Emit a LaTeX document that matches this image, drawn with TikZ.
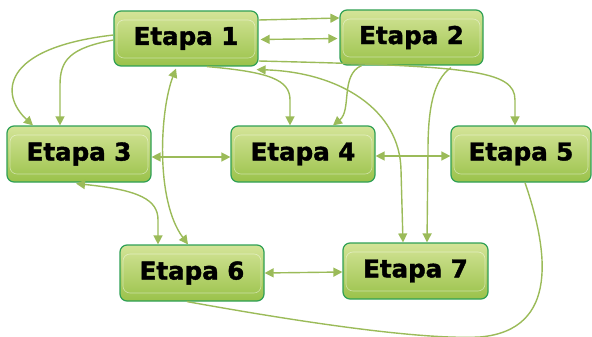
\documentclass[tikz,border=0pt]{standalone}
\usepackage{fontspec}
\newfontfamily\etapafont{DejaVu Sans}[BoldFeatures={FakeBold=1.6}]
\usetikzlibrary{arrows.meta,calc}
\definecolor{edgegreen}{HTML}{9BBB59}
\definecolor{boxborder}{HTML}{2FA055}
\definecolor{boxtop}{HTML}{D4E498}
\definecolor{boxbottom}{HTML}{9AC24A}
\tikzset{
  etapabox/.style={draw=boxborder, line width=1.2pt, rounded corners=7pt,
    top color=boxtop, bottom color=boxbottom, minimum height=55pt, inner sep=0pt,
    font=\etapafont\bfseries\fontsize{24.5}{24.5}\selectfont, text=black,
    path picture={\draw[white, opacity=0.45, line width=0.6pt]
      ([shift={(3pt,8pt)}]path picture bounding box.south west) rectangle
      ([shift={(-3pt,-9pt)}]path picture bounding box.north east);}},
  link/.style={draw=edgegreen, line width=1.4pt},
  tip/.style={-{Triangle[length=9pt,width=9pt]}},
  bitip/.style={{Triangle[length=9pt,width=9pt]}-{Triangle[length=9pt,width=9pt]}}
}
\begin{document}
\begin{tikzpicture}[x=1pt,y=-1pt]
\useasboundingbox (0,0) rectangle (592,337);
\node[etapabox, minimum width=144pt] (e1) at (186,38.5) {Etapa 1};
\node[etapabox, minimum width=143pt] (e2) at (411.5,37.5) {Etapa 2};
\node[etapabox, minimum width=144pt, minimum height=56pt] (e3) at (79,154) {Etapa 3};
\node[etapabox, minimum width=144pt, minimum height=56pt] (e4) at (303,154) {Etapa 4};
\node[etapabox, minimum width=140pt, minimum height=56pt] (e5) at (521,154) {Etapa 5};
\node[etapabox, minimum width=144pt, minimum height=56pt] (e6) at (192,273) {Etapa 6};
\node[etapabox, minimum width=145pt, minimum height=56pt] (e7) at (415.5,271) {Etapa 7};

% Etapa 1 -> Etapa 2 (top)
\draw[link,tip] ([yshift=18.5pt]e1.east) -- ([yshift=19.5pt]e2.west);
% Etapa 1 <-> Etapa 2
\draw[link,bitip,shorten <=2pt,shorten >=2pt] ([yshift=-1pt]e1.east) -- ([yshift=-1pt]e2.west);
% Etapa 1 -> Etapa 5
\draw[link,tip] ([yshift=-22.5pt]e1.east) .. controls (470,66) and (515,70) .. (515,100) -- ([xshift=-6pt]e5.north);
% Etapa 1 <-> Etapa 7
\draw[link,bitip] ([shift={(-2pt,-3pt)}]e1.south east) .. controls (340,72) and (400,110) .. (401,170) -- ([xshift=-12.5pt]e7.north);
% Etapa 1 -> Etapa 4
\draw[link,tip] ([xshift=21pt]e1.south) .. controls (270,72) and (290,80) .. (290,100) -- ([xshift=-13pt]e4.north);
% Etapa 1 -> Etapa 3 (outer)
\draw[link,tip] ([yshift=3.5pt]e1.west) .. controls (0,48) and (0,95) .. ([xshift=-46pt]e3.north);
% Etapa 1 -> Etapa 3 (inner)
\draw[link,tip] ([yshift=-1.5pt]e1.west) .. controls (70,48) and (60,60) .. (60,85) -- ([xshift=-19pt]e3.north);
% Etapa 1 <-> Etapa 6
\draw[link,bitip] ([xshift=-10pt,yshift=-2pt]e1.south) .. controls (160,110) and (155,200) .. ([xshift=-4pt]e6.north);
% Etapa 2 -> Etapa 4
\draw[link,tip] ([xshift=-50pt]e2.south) .. controls (340,75) and (352,110) .. ([xshift=30pt]e4.north);
% Etapa 2 -> Etapa 7
\draw[link,tip] ([xshift=39.5pt,yshift=-2pt]e2.south) .. controls (433,80) and (428,110) .. (428,150) -- ([xshift=11.5pt]e7.north);
% Etapa 3 <-> Etapa 4
\draw[link,bitip] ([yshift=-3pt]e3.east) -- ([yshift=-3pt]e4.west);
% Etapa 4 <-> Etapa 5
\draw[link,bitip] ([yshift=-2pt]e4.east) -- ([yshift=-2pt]e5.west);
% Etapa 3 <-> Etapa 6
\draw[link,bitip] ([xshift=-3pt,yshift=-1pt]e3.south) .. controls (140,190) and (158,200) .. (158,220) -- ([xshift=-34pt]e6.north);
% Etapa 6 <-> Etapa 7
\draw[link,bitip] (e6.east) -- ([yshift=-1pt]e7.west);
% Etapa 5 - Etapa 6 (bottom loop)
\draw[link] ([xshift=4pt]e5.south) .. controls (548,250) and (560,330) .. (480,337)
  .. controls (420,340) and (300,322) .. ([xshift=-5pt]e6.south);
\end{tikzpicture}
\end{document}
